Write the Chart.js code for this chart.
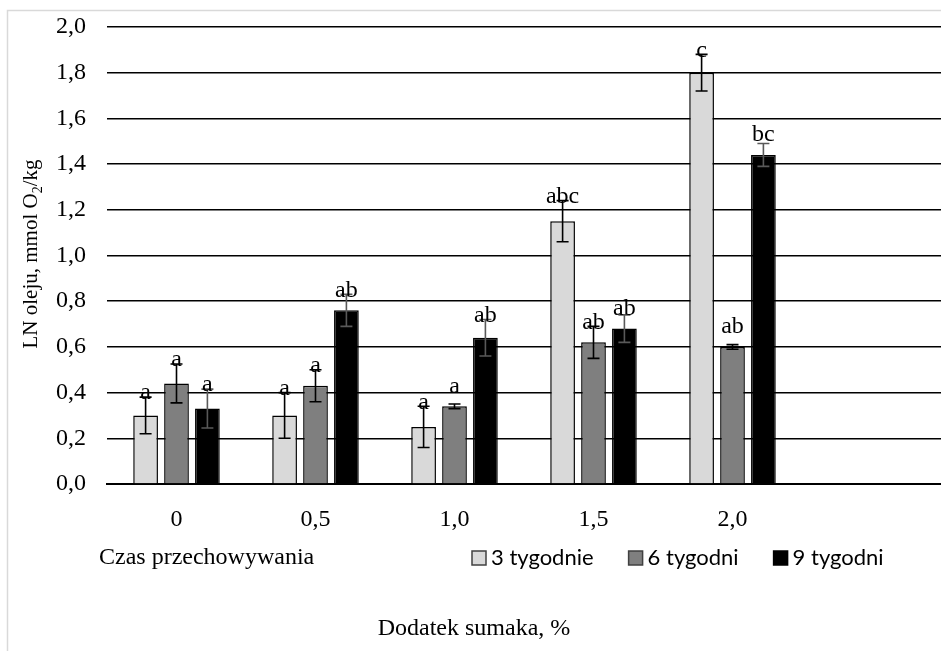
<!DOCTYPE html>
<html>
<head>
<meta charset="utf-8">
<title>LN oleju</title>
<script src="https://cdn.jsdelivr.net/npm/chart.js@4.4.1/dist/chart.umd.min.js"></script>
<style>
  html, body { margin: 0; padding: 0; background: #fff; overflow: hidden; }
</style>
</head>
<body>
<canvas id="chart" width="941" height="651"></canvas>
<script>
/* ============================================================
   Data
============================================================ */
const categories = ["0", "0,5", "1,0", "1,5", "2,0", ""];
const seriesNames = ["3 tygodnie", "6 tygodni", "9 tygodni"];

const week3 = [0.30, 0.30, 0.25, 1.15, 1.80];
const week6 = [0.44, 0.43, 0.34, 0.62, 0.60];
const week9 = [0.33, 0.76, 0.64, 0.68, 1.44];

// standard deviations (error bars)
const week3Err = [0.08, 0.10, 0.09, 0.09, 0.08];
const week6Err = [0.085, 0.07, 0.01, 0.07, 0.01];
const week9Err = [0.085, 0.07, 0.08, 0.06, 0.05];

// homogeneous groups
const week3Groups = ["a", "a", "a", "abc", "c"];
const week6Groups = ["a", "a", "a", "ab", "ab"];
const week9Groups = ["a", "ab", "ab", "ab", "bc"];

const yMin = 0;
const yMax = 2.0;
const yStep = 0.2;

const legendTitle = "Czas przechowywania";
const xTitle = "Dodatek sumaka, %";

/* ============================================================
   Styles
============================================================ */
const SERIF = "'Liberation Serif', 'Times New Roman', serif";
const SANS = "Lato, 'Open Sans', sans-serif";
const fills = ["#d9d9d9", "#7f7f7f", "#000000"];
const errColors = ["#000000", "#000000", "#595959"];

/* ============================================================
   Plugins
============================================================ */
const framePlugin = {
    id: "frame",
    beforeDraw(chart) {
        const ctx = chart.ctx;
        ctx.save();
        ctx.strokeStyle = "#d9d9d9";
        ctx.lineWidth = 1.5;
        ctx.beginPath();
        ctx.moveTo(7.5, chart.height);
        ctx.lineTo(7.5, 10.5);
        ctx.lineTo(chart.width, 10.5);
        ctx.stroke();
        ctx.restore();
    }
};

const errorPlugin = {
    id: "errorBars",
    afterDatasetsDraw(chart) {
        const ctx = chart.ctx;
        const y = chart.scales.y;
        ctx.save();
        chart.data.datasets.forEach((ds, i) => {
            const meta = chart.getDatasetMeta(i);
            meta.data.forEach((bar, j) => {
                const v = ds.data[j];
                const e = ds.errors[j];
                if (v == null) return;
                const top = y.getPixelForValue(v + e);
                const bot = y.getPixelForValue(v - e);
                const cap = 6;

                ctx.strokeStyle = errColors[i];
                ctx.lineWidth = 1.6;
                ctx.beginPath();
                ctx.moveTo(bar.x, top);
                ctx.lineTo(bar.x, bot);
                ctx.moveTo(bar.x - cap, top);
                ctx.lineTo(bar.x + cap, top);
                ctx.moveTo(bar.x - cap, bot);
                ctx.lineTo(bar.x + cap, bot);
                ctx.stroke();

                // group letter above the bar
                const barTop = y.getPixelForValue(v);
                const ly = Math.min(top - 4, barTop - 20);
                ctx.fillStyle = "#000";
                ctx.font = "24px " + SERIF;
                ctx.textAlign = "center";
                ctx.textBaseline = "middle";
                ctx.fillText(ds.groups[j], bar.x, ly);
            });
        });
        ctx.restore();
    }
};

const textPlugin = {
    id: "texts",
    afterDraw(chart) {
        const ctx = chart.ctx;
        ctx.save();

        // y axis title with subscript
        const parts = [["LN oleju, mmol O", 21, 0], ["2", 14, 5], ["/kg", 21, 0]];
        let total = 0;
        parts.forEach(p => {
            ctx.font = p[1] + "px " + SERIF;
            total += ctx.measureText(p[0]).width;
        });
        ctx.translate(30, 254);
        ctx.rotate(-Math.PI / 2);
        ctx.fillStyle = "#000";
        ctx.textBaseline = "alphabetic";
        ctx.textAlign = "left";
        let x = -total / 2;
        parts.forEach(p => {
            ctx.font = p[1] + "px " + SERIF;
            ctx.fillText(p[0], x, 7 + p[2]);
            x += ctx.measureText(p[0]).width;
        });
        ctx.setTransform(1, 0, 0, 1, 0, 0);

        // legend row
        const ly = 558;
        ctx.textBaseline = "middle";
        ctx.font = "24px " + SERIF;
        ctx.fillText(legendTitle, 99, ly);

        let lx = 471;
        ctx.font = "22px " + SANS;
        chart.data.datasets.forEach(ds => {
            ctx.fillStyle = ds.backgroundColor;
            ctx.fillRect(lx + 1, ly - 7, 14, 14);
            ctx.strokeStyle = ds.backgroundColor === "#000000" ? "#000" : "#404040";
            ctx.lineWidth = 1.5;
            ctx.strokeRect(lx + 1, ly - 7, 14, 14);
            ctx.fillStyle = "#000";
            ctx.fillText(ds.label, lx + 20, ly);
            lx += 20 + ctx.measureText(ds.label).width + 34;
        });

        // x axis title
        ctx.textAlign = "center";
        ctx.font = "24px " + SERIF;
        ctx.fillText(xTitle, 474, 629);
        ctx.restore();
    }
};

/* ============================================================
   Chart
============================================================ */
const seriesValues = [week3, week6, week9];
const seriesErrors = [week3Err, week6Err, week9Err];
const seriesGroups = [week3Groups, week6Groups, week9Groups];

const ctx = document.getElementById("chart").getContext("2d");

new Chart(ctx, {
    type: "bar",
    data: {
        labels: categories,
        datasets: seriesNames.map((name, i) => ({
            label: name,
            data: seriesValues[i],
            errors: seriesErrors[i],
            groups: seriesGroups[i],
            backgroundColor: fills[i],
            borderColor: "#000000",
            borderWidth: 1.5,
            categoryPercentage: 0.667,
            barPercentage: 0.8
        }))
    },
    options: {
        responsive: false,
        animation: false,
        layout: { padding: { top: 27, left: 0, right: 0, bottom: 0 } },
        plugins: {
            legend: { display: false },
            tooltip: { enabled: false }
        },
        scales: {
            x: {
                grid: { display: false, drawTicks: false },
                border: { color: "#000", width: 2 },
                ticks: {
                    color: "#000",
                    padding: 21,
                    font: { family: SERIF, size: 24 }
                },
                afterFit: s => { s.height = 167; s.paddingLeft = 0; s.paddingRight = 0; }
            },
            y: {
                min: yMin,
                max: yMax,
                grid: { color: "#000", lineWidth: 1.5, drawTicks: false },
                border: { display: false },
                ticks: {
                    stepSize: yStep,
                    color: "#000",
                    padding: 21,
                    font: { family: SERIF, size: 24 },
                    callback: v => v.toFixed(1).replace(".", ",")
                },
                afterFit: s => { s.width = 107; s.paddingTop = 0; s.paddingBottom = 0; }
            }
        }
    },
    plugins: [framePlugin, errorPlugin, textPlugin]
});
</script>
</body>
</html>
